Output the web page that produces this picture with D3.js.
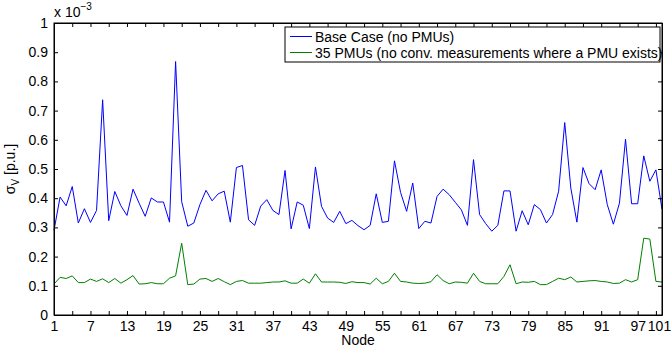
<!DOCTYPE html>
<html>
<head>
<meta charset="utf-8">
<script src="https://cdn.jsdelivr.net/npm/d3@7"></script>
<style>
  body { margin: 0; background: #fff; }
  svg text { font-family: "Liberation Sans", Arial, sans-serif; }
</style>
</head>
<body>
<div id="chart"></div>
<script>
// values in units of 1e-3 p.u.
const nodes = d3.range(1, 102);
const baseCase = [
  0.29, 0.404, 0.374, 0.44, 0.315, 0.364, 0.317, 0.358, 0.737, 0.323,
  0.423, 0.374, 0.341, 0.431, 0.383, 0.338, 0.401, 0.387, 0.387, 0.318,
  0.868, 0.388, 0.304, 0.315, 0.378, 0.427, 0.391, 0.415, 0.424, 0.318,
  0.505, 0.512, 0.326, 0.307, 0.373, 0.395, 0.358, 0.344, 0.495, 0.295,
  0.387, 0.376, 0.296, 0.507, 0.372, 0.332, 0.317, 0.355, 0.313, 0.324,
  0.306, 0.292, 0.307, 0.415, 0.317, 0.321, 0.528, 0.42, 0.355, 0.452,
  0.296, 0.321, 0.315, 0.406, 0.431, 0.412, 0.386, 0.36, 0.307, 0.532,
  0.344, 0.313, 0.287, 0.307, 0.425, 0.425, 0.287, 0.357, 0.309, 0.378,
  0.361, 0.315, 0.344, 0.424, 0.659, 0.435, 0.318, 0.505, 0.45, 0.429,
  0.497, 0.378, 0.311, 0.383, 0.602, 0.381, 0.381, 0.545, 0.458, 0.497,
  0.362
];
const pmu35 = [
  0.106, 0.129, 0.125, 0.134, 0.111, 0.111, 0.123, 0.115, 0.124, 0.111,
  0.125, 0.109, 0.121, 0.135, 0.106, 0.107, 0.111, 0.107, 0.107, 0.126,
  0.134, 0.246, 0.104, 0.106, 0.123, 0.125, 0.115, 0.125, 0.114, 0.104,
  0.115, 0.118, 0.109, 0.109, 0.109, 0.111, 0.113, 0.113, 0.117, 0.109,
  0.109, 0.123, 0.109, 0.141, 0.113, 0.113, 0.113, 0.112, 0.108, 0.114,
  0.111, 0.111, 0.106, 0.126, 0.107, 0.115, 0.143, 0.115, 0.113, 0.109,
  0.108, 0.109, 0.114, 0.138, 0.118, 0.107, 0.113, 0.112, 0.109, 0.143,
  0.115, 0.107, 0.107, 0.107, 0.132, 0.172, 0.107, 0.113, 0.112, 0.115,
  0.104, 0.104, 0.115, 0.126, 0.121, 0.13, 0.113, 0.115, 0.117, 0.118,
  0.115, 0.113, 0.108, 0.109, 0.121, 0.113, 0.121, 0.263, 0.26, 0.115,
  0.113
];
const xTicks = [1, 4, 7, 10, 13, 16, 19, 22, 25, 28, 31, 34, 37, 40, 43, 46, 49, 52, 55, 58,
  61, 64, 67, 70, 73, 76, 79, 82, 85, 88, 91, 94, 97, 100, 101];
const xLabels = [1, 7, 13, 19, 25, 31, 37, 43, 49, 55, 61, 67, 73, 79, 85, 91, 97, 101];
const yTicks = [0, 0.1, 0.2, 0.3, 0.4, 0.5, 0.6, 0.7, 0.8, 0.9, 1];
const seriesNames = ["Base Case (no PMUs)", "35 PMUs (no conv. measurements where a PMU exists)"];
const seriesColors = ["#0000ff", "#008000"];

const W = 671, H = 349;
const margin = { top: 23, right: 9, bottom: 34, left: 54 };
const width = W - margin.left - margin.right;
const height = H - margin.top - margin.bottom;
const fs = 14;

const svg = d3.select("#chart").append("svg")
  .attr("width", W).attr("height", H);
const g = svg.append("g")
  .attr("transform", `translate(${margin.left},${margin.top})`);

const x = d3.scaleLinear().domain([1, 101]).range([0, width]);
const y = d3.scaleLinear().domain([0, 1]).range([height, 0]);

// lines
const line = d3.line().x((d, i) => x(nodes[i])).y(d => y(d));
[baseCase, pmu35].forEach((s, k) => {
  g.append("path")
    .datum(s)
    .attr("fill", "none")
    .attr("stroke", seriesColors[k])
    .attr("stroke-width", 1)
    .attr("d", line);
});

// axes (MATLAB style box with inward ticks)
const tickLen = 4;
const fmtY = d => d === 0 ? "0" : (d === 1 ? "1" : d3.format(".1f")(d));
g.append("g").attr("transform", `translate(0,${height})`)
  .call(d3.axisBottom(x).tickValues(xTicks).tickSizeInner(-tickLen).tickSizeOuter(0)
    .tickFormat(d => xLabels.includes(d) ? d : ""))
  .call(a => a.selectAll("text").attr("dy", "0.9em").attr("y", 3))
  .call(a => a.selectAll(".tick").filter(d => d === 101).select("text").attr("dx", -3));
g.append("g")
  .call(d3.axisTop(x).tickValues(xTicks).tickSizeInner(-tickLen).tickSizeOuter(0).tickFormat(""));
g.append("g")
  .call(d3.axisLeft(y).tickValues(yTicks).tickSizeInner(-tickLen).tickSizeOuter(0).tickFormat(fmtY))
  .call(a => a.selectAll("text").attr("x", -6));
g.append("g").attr("transform", `translate(${width},0)`)
  .call(d3.axisRight(y).tickValues(yTicks).tickSizeInner(-tickLen).tickSizeOuter(0).tickFormat(""));
g.selectAll(".domain").attr("stroke", "#000");
g.selectAll(".tick line").attr("stroke", "#000");
g.selectAll(".tick text").attr("font-size", fs).attr("fill", "#000")
  .style("font-family", "'Liberation Sans', Arial, sans-serif");
g.append("rect").attr("width", width).attr("height", height)
  .attr("fill", "none").attr("stroke", "#000");

// exponent label
const expo = svg.append("text").attr("x", margin.left).attr("y", 17)
  .attr("font-size", fs);
expo.append("tspan").text("x 10");
expo.append("tspan").attr("font-size", 10).attr("dy", -7).text("\u22123");

// axis titles
svg.append("text").attr("x", margin.left + width / 2).attr("y", H - 4)
  .attr("text-anchor", "middle").attr("font-size", fs).text("Node");
const yl = svg.append("text")
  .attr("transform", `translate(15,${margin.top + height / 2}) rotate(-90)`)
  .attr("text-anchor", "middle").attr("font-size", fs);
yl.append("tspan").text("\u03c3");
yl.append("tspan").attr("font-size", 10).attr("dy", 4).text("V");
yl.append("tspan").attr("dy", -4).text(" [p.u.]");

// legend
const lg = svg.append("g").attr("transform", "translate(285,27)");
lg.append("rect").attr("width", 375).attr("height", 35)
  .attr("fill", "#fff").attr("stroke", "#000");
seriesNames.forEach((name, i) => {
  const ly = 9.5 + i * 16;
  lg.append("line").attr("x1", 5).attr("x2", 27).attr("y1", ly).attr("y2", ly)
    .attr("stroke", seriesColors[i]);
  lg.append("text").attr("x", 30).attr("y", ly + 5).attr("font-size", fs).text(name);
});
</script>
</body>
</html>
